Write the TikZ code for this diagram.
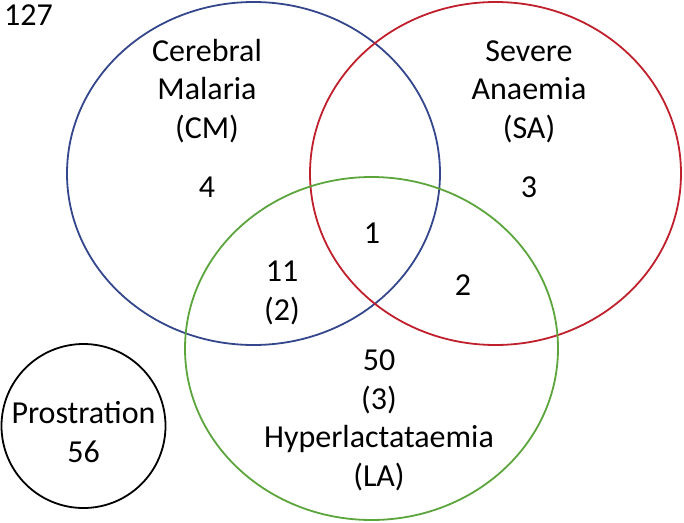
\documentclass[tikz,border=0pt]{standalone}
\usepackage{fontspec}
\setmainfont{Carlito}
\usetikzlibrary{shapes.geometric}
\definecolor{CMBlue}{HTML}{34468C}
\definecolor{SARed}{HTML}{C01F2C}
\definecolor{LAGreen}{HTML}{5BA53C}
\tikzset{
  setring/.style={ellipse,draw=#1,line width=1.8pt,inner sep=0pt},
  label/.style={align=center,inner sep=0pt,anchor=base,
    font=\fontsize{32}{38.5}\selectfont,text=black}
}

\begin{document}
\begin{tikzpicture}[x=1pt,y=-1pt]
  \useasboundingbox (0,0) rectangle (684,522);
  % the three sets
  \node[setring=CMBlue,minimum width=373pt,minimum height=343pt] (cm) at (253.5,173.5) {};
  \node[setring=SARed,minimum width=371pt,minimum height=343pt] (sa) at (495.5,173.5) {};
  \node[setring=LAGreen,minimum width=373pt,minimum height=343pt] (la) at (371.5,348.5) {};
  \node[circle,draw=black,line width=1.8pt,minimum size=164pt,inner sep=0pt] (pr) at (83.5,426) {};
  % counts and names (base = last line)
  \node[label,anchor=base west] (total) at (4,25) {127};
  \node[label] (cmname) at (207,138) {Cerebral\\Malaria\\(CM)};
  \node[label] (samname) at (529,138) {Severe\\Anaemia\\(SA)};
  \node[label] (cmonly) at (207,197) {4};
  \node[label] (saonly) at (529,197) {3};
  \node[label] (all) at (372,243) {1};
  \node[label] (cmla) at (282,320) {11\\(2)};
  \node[label] (sala) at (463,295) {2};
  \node[label] (laname) at (379,486) {50\\(3)\\Hyperlactataemia\\(LA)};
  \node[label] (prname) at (83.5,462) {Prostration\\56};
\end{tikzpicture}
\end{document}
